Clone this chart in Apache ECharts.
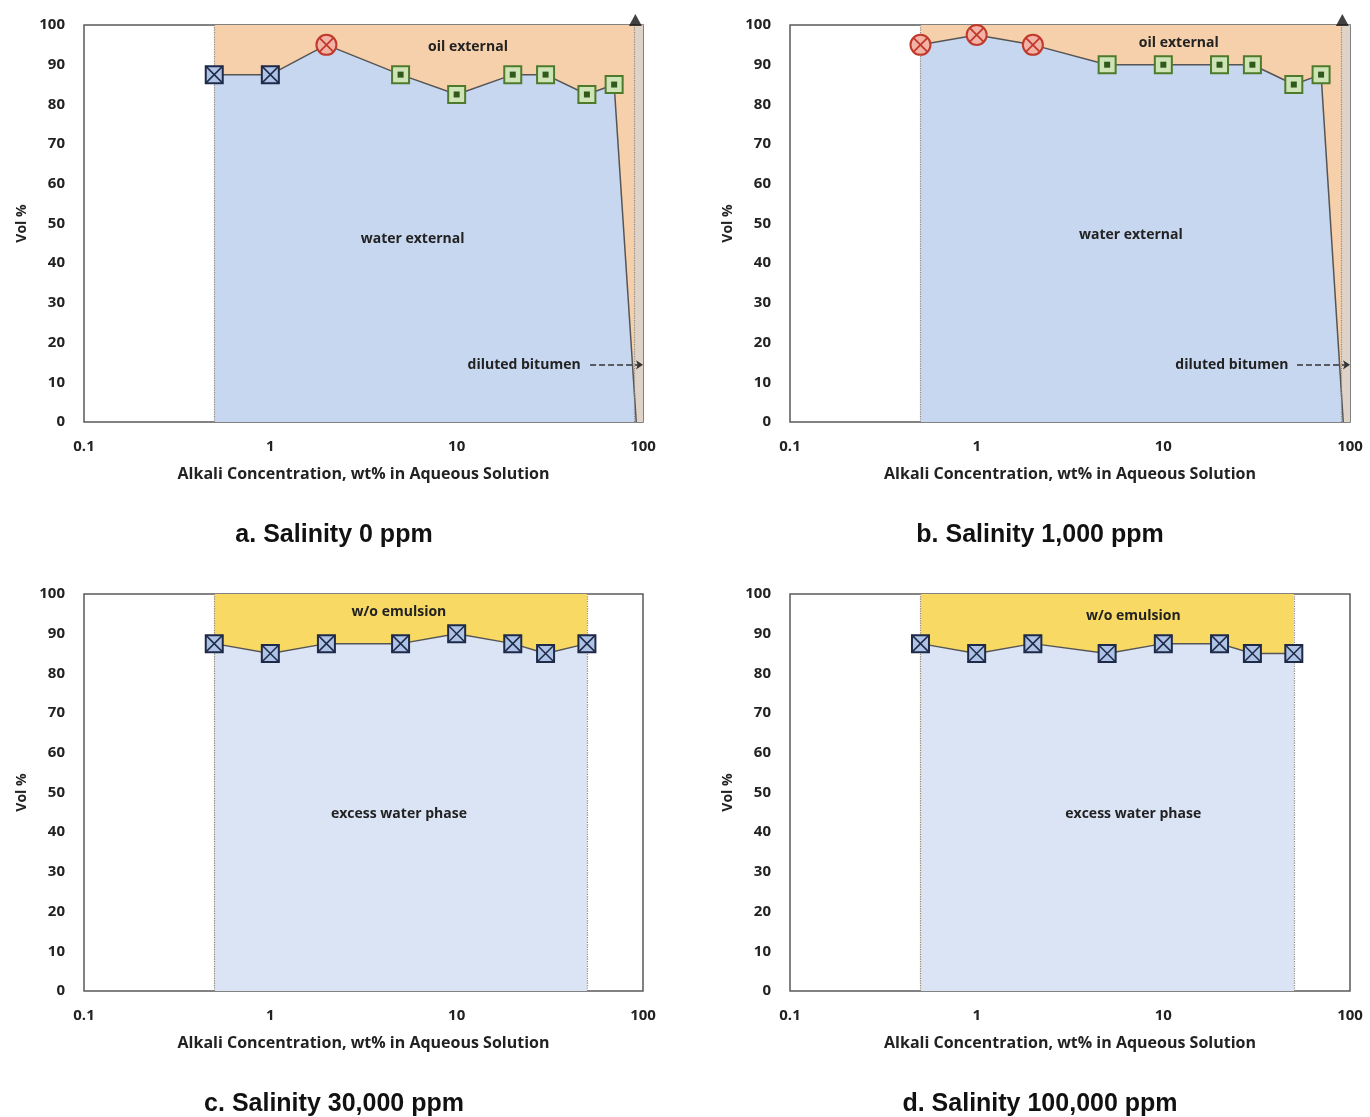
<!DOCTYPE html>
<html>
<head>
<meta charset="utf-8">
<script src="https://cdn.jsdelivr.net/npm/echarts@6/dist/echarts.min.js"></script>
<style>html,body{margin:0;padding:0;background:#fff;}#c{width:1370px;height:1117px;}</style>
</head>
<body>
<div id="c"></div>
<script>
// ---- data ----
const concA = [0.5, 1, 2, 5, 10, 20, 30, 50, 70];
const volA  = [87.5, 87.5, 95, 87.5, 82.5, 87.5, 87.5, 82.5, 85];
const typeA = ['sqx','sqx','cx','sqd','sqd','sqd','sqd','sqd','sqd'];
const dropA = [92, 0];

const concB = [0.5, 1, 2, 5, 10, 20, 30, 50, 70];
const volB  = [95, 97.5, 95, 90, 90, 90, 90, 85, 87.5];
const typeB = ['cx','cx','cx','sqd','sqd','sqd','sqd','sqd','sqd'];
const dropB = [92, 0];

const concC = [0.5, 1, 2, 5, 10, 20, 30, 50];
const volC  = [87.5, 85, 87.5, 87.5, 90, 87.5, 85, 87.5];
const typeC = ['sqx','sqx','sqx','sqx','sqx','sqx','sqx','sqx'];

const concD = [0.5, 1, 2, 5, 10, 20, 30, 50];
const volD  = [87.5, 85, 87.5, 85, 87.5, 87.5, 85, 85];
const typeD = ['sqx','sqx','sqx','sqx','sqx','sqx','sqx','sqx'];

const xTicks = [0.1, 1, 10, 100];
const yMin = 0, yMax = 100, yStep = 10;
const dilutedStart = 90;   // start of diluted bitumen strip
const topMarker = [91, 100];

const subtitles = ['a. Salinity 0 ppm', 'b. Salinity 1,000 ppm', 'c. Salinity 30,000 ppm', 'd. Salinity 100,000 ppm'];
const xName = 'Alkali Concentration, wt% in Aqueous Solution';
const yName = 'Vol %';

// ---- layout / style ----
const FONT = '"Open Sans", "DejaVu Sans", sans-serif';
const grids = [
  {left: 84, top: 25, width: 559, height: 397},
  {left: 790, top: 25, width: 560, height: 397},
  {left: 84, top: 594, width: 559, height: 397},
  {left: 790, top: 594, width: 560, height: 397}
];
const subPos = [[334, 535], [1040, 535], [334, 1104], [1040, 1104]];

const option = {
  animation: false,
  grid: grids.map(g => Object.assign({show: true, borderColor: '#5a5a5a', borderWidth: 1.5, backgroundColor: 'transparent'}, g)),
  xAxis: grids.map((g, i) => ({
    type: 'log', logBase: 10, min: xTicks[0], max: xTicks[xTicks.length - 1], gridIndex: i,
    axisLine: {show: false}, axisTick: {show: false}, splitLine: {show: false},
    axisLabel: {margin: 17, color: '#222', fontFamily: FONT, fontWeight: 'bold', fontSize: 15,
      formatter: v => { const t = xTicks.find(k => Math.abs(k - v) / k < 1e-6); return t === undefined ? '' : String(t); }},
    name: xName, nameLocation: 'middle', nameGap: 44,
    nameTextStyle: {color: '#222', fontFamily: FONT, fontWeight: 'bold', fontSize: 16}
  })),
  yAxis: grids.map((g, i) => ({
    type: 'value', min: yMin, max: yMax, interval: yStep, gridIndex: i,
    axisLine: {show: false}, axisTick: {show: false}, splitLine: {show: false},
    axisLabel: {margin: 19, color: '#222', fontFamily: FONT, fontWeight: 'bold', fontSize: 15},
    name: yName, nameLocation: 'middle', nameGap: 55,
    nameTextStyle: {color: '#222', fontFamily: FONT, fontWeight: 'bold', fontSize: 14}
  })),
  graphic: subtitles.map((t, i) => ({
    type: 'text', x: subPos[i][0], y: subPos[i][1],
    style: {text: t, textAlign: 'center', textVerticalAlign: 'middle', font: 'bold 25px "Liberation Sans", Arial, sans-serif', fill: '#111'}
  })),
  series: []
};

function markerRender(types) {
  return function (params, api) {
    const p = api.coord([api.value(0), api.value(1)]);
    const t = types[api.value(2)];
    const x = p[0], y = p[1];
    if (t === 'sqx') {
      const s = 8.5;
      return {type: 'group', children: [
        {type: 'rect', shape: {x: x - s, y: y - s, width: 2 * s, height: 2 * s}, style: {fill: '#aec3e6', stroke: '#1e2a48', lineWidth: 2}},
        {type: 'line', shape: {x1: x - s, y1: y - s, x2: x + s, y2: y + s}, style: {stroke: '#1e2a48', lineWidth: 1.5}},
        {type: 'line', shape: {x1: x + s, y1: y - s, x2: x - s, y2: y + s}, style: {stroke: '#1e2a48', lineWidth: 1.5}}
      ]};
    } else if (t === 'cx') {
      const r = 10, d = 7;
      return {type: 'group', children: [
        {type: 'circle', shape: {cx: x, cy: y, r: r}, style: {fill: '#f2b3a6', stroke: '#c0392b', lineWidth: 2}},
        {type: 'line', shape: {x1: x - d, y1: y - d, x2: x + d, y2: y + d}, style: {stroke: '#c0392b', lineWidth: 1.8}},
        {type: 'line', shape: {x1: x + d, y1: y - d, x2: x - d, y2: y + d}, style: {stroke: '#c0392b', lineWidth: 1.8}}
      ]};
    } else {
      const s = 8.5;
      return {type: 'group', children: [
        {type: 'rect', shape: {x: x - s, y: y - s, width: 2 * s, height: 2 * s}, style: {fill: '#cfe4b6', stroke: '#4e7a2c', lineWidth: 2}},
        {type: 'rect', shape: {x: x - 3, y: y - 3, width: 6, height: 6}, style: {fill: '#2f5a1c'}}
      ]};
    }
  };
}

const labelStyle = {show: true, position: 'inside', color: '#222', fontFamily: FONT, fontWeight: 'bold', fontSize: 14};
function textMark(name, x, y) {
  return {name: name, coord: [x, y], symbolSize: 0, label: Object.assign({formatter: name}, labelStyle)};
}

function addPanel(i, conc, vol, types, drop, cfg) {
  const curve = conc.map((c, k) => [c, vol[k]]);
  const lastX = conc[conc.length - 1];
  const areaEndX = drop ? xTicks[xTicks.length - 1] : lastX;
  option.series.push({
    type: 'line', xAxisIndex: i, yAxisIndex: i, z: 1, data: [], silent: true,
    markArea: {silent: true, itemStyle: {color: cfg.topColor}, data: [[{coord: [conc[0], yMin]}, {coord: [areaEndX, yMax]}]]}
  });
  const poly = drop ? curve.concat([drop]) : curve;
  option.series.push({
    type: 'line', xAxisIndex: i, yAxisIndex: i, z: 2, data: poly, showSymbol: false, silent: true,
    lineStyle: {color: '#555', width: 1.5}, areaStyle: {color: cfg.lowColor, opacity: 1}
  });
  const ml = [{xAxis: conc[0]}];
  if (!drop) ml.push({xAxis: lastX});
  const marks = {
    type: 'line', xAxisIndex: i, yAxisIndex: i, z: 3, data: [], silent: true,
    markLine: {silent: true, symbol: 'none', label: {show: false}, lineStyle: {color: '#8a8a8a', type: 'dotted', width: 1.2}, data: ml},
    markPoint: {silent: true, data: cfg.texts.map(t => textMark(t[0], t[1], t[2]))}
  };
  if (drop) {
    marks.markArea = {silent: true, itemStyle: {color: 'rgba(215,212,208,0.75)'}, data: [[{coord: [dilutedStart, yMin]}, {coord: [xTicks[xTicks.length - 1], yMax]}]]};
    marks.markLine.data.push({xAxis: dilutedStart});
  }
  option.series.push(marks);
  if (drop) {
    option.series.push({
      type: 'line', xAxisIndex: i, yAxisIndex: i, z: 4, data: [], silent: true,
      markLine: {silent: true, symbol: ['none', 'arrow'], symbolSize: 7, label: {show: false},
        lineStyle: {color: '#333', type: 'dashed', width: 1.5},
        data: [[{coord: [cfg.arrowFrom, cfg.arrowY]}, {coord: [xTicks[xTicks.length - 1], cfg.arrowY]}]]}
    });
    option.series.push({
      type: 'scatter', xAxisIndex: i, yAxisIndex: i, z: 6, clip: false, silent: true,
      data: [topMarker], symbol: 'triangle', symbolSize: [13, 12], symbolOffset: [0, -5], itemStyle: {color: '#111'}
    });
  }
  option.series.push({
    type: 'custom', xAxisIndex: i, yAxisIndex: i, z: 5, clip: false, silent: true,
    data: conc.map((c, k) => [c, vol[k], k]), renderItem: markerRender(types)
  });
}

const ORANGE = '#f5d0ab', BLUE = '#c8d7f0', YELLOW = '#f7d964', BLUE2 = '#dbe4f5';
addPanel(0, concA, volA, typeA, dropA, {topColor: ORANGE, lowColor: BLUE,
  texts: [['oil external', 11.5, 94.5], ['water external', 5.8, 46], ['diluted bitumen', 23, 14.4]], arrowFrom: 52, arrowY: 14.4});
addPanel(1, concB, volB, typeB, dropB, {topColor: ORANGE, lowColor: BLUE,
  texts: [['oil external', 12.1, 95.5], ['water external', 6.7, 47], ['diluted bitumen', 23.3, 14.4]], arrowFrom: 52, arrowY: 14.4});
addPanel(2, concC, volC, typeC, null, {topColor: YELLOW, lowColor: BLUE2,
  texts: [['w/o emulsion', 4.9, 95.5], ['excess water phase', 4.9, 44.6]]});
addPanel(3, concD, volD, typeD, null, {topColor: YELLOW, lowColor: BLUE2,
  texts: [['w/o emulsion', 6.9, 94.5], ['excess water phase', 6.9, 44.6]]});

const chart = echarts.init(document.getElementById('c'), null, {renderer: 'canvas'});
chart.setOption(option);
</script>
</body>
</html>
